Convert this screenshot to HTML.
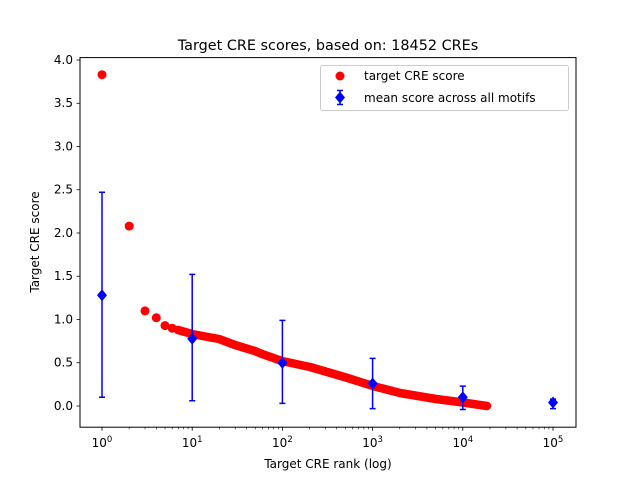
<!DOCTYPE html>
<html><head><style>body{margin:0;background:#fff}svg{display:block;font-family:"DejaVu Sans","Liberation Sans",sans-serif}</style></head>
<body>
<svg width="640" height="480" viewBox="0 0 640 480">
<rect width="640" height="480" fill="#fff"/>
<text x="328" y="50" font-size="14.4" text-anchor="middle">Target CRE scores, based on: 18452 CREs</text>
<polyline points="178,330 192,334 208,337 219,339 235,345 255,351 262,354 282,361 310,367 346,377.5 373,386 400,393 436,399 463,402.5 487,406" fill="none" stroke="#ff0000" stroke-width="8.5" stroke-linecap="round" stroke-linejoin="round"/>
<g fill="#ff0000">
<circle cx="102" cy="74.7" r="4.5"/><circle cx="129.2" cy="226.1" r="4.5"/><circle cx="145" cy="310.9" r="4.5"/><circle cx="156.3" cy="317.8" r="4.5"/><circle cx="165" cy="325.6" r="4.5"/><circle cx="172.2" cy="328.2" r="4.5"/>
</g>
<g stroke="#0000ff" stroke-width="1.5" fill="none">
<path d="M102,397.3V192.3M99,397.3h6M99,192.3h6"/>
<path d="M192.2,400.8V274.4M189.2,400.8h6M189.2,274.4h6"/>
<path d="M282.4,403.4V320.4M279.4,403.4h6M279.4,320.4h6"/>
<path d="M372.6,408.6V358.4M369.6,408.6h6M369.6,358.4h6"/>
<path d="M462.8,409.5V386.1M459.8,409.5h6M459.8,386.1h6"/>
<path d="M553,408.6V399.1M550,408.6h6M550,399.1h6"/>
</g>
<g fill="#0000ff">
<path d="M102,289.3l5,6-5,6-5-6z"/><path d="M192.2,332.7l5,6-5,6-5-6z"/><path d="M282.4,356.9l5,6-5,6-5-6z"/><path d="M372.6,377.5l5,6-5,6-5-6z"/><path d="M462.8,391.3l5,6-5,6-5-6z"/><path d="M553,396.5l5,6-5,6-5-6z"/>
</g>
<rect x="80" y="57.6" width="496" height="369.6" fill="none" stroke="#000" stroke-width="1"/>
<g stroke="#000" stroke-width="0.8">
<path d="M102,427.2v3.5M192.2,427.2v3.5M282.4,427.2v3.5M372.6,427.2v3.5M462.8,427.2v3.5M553,427.2v3.5"/>
<path d="M80,406h-3.5M80,362.75h-3.5M80,319.5h-3.5M80,276.25h-3.5M80,233h-3.5M80,189.75h-3.5M80,146.5h-3.5M80,103.25h-3.5M80,60h-3.5"/>
</g>
<g stroke="#000" stroke-width="0.6" id="minor"></g>
<g font-size="12" text-anchor="end">
<text x="73" y="410">0.0</text><text x="73" y="366.7">0.5</text><text x="73" y="323.5">1.0</text><text x="73" y="280.2">1.5</text><text x="73" y="237">2.0</text><text x="73" y="193.7">2.5</text><text x="73" y="150.5">3.0</text><text x="73" y="107.2">3.5</text><text x="73" y="64">4.0</text>
</g>
<g font-size="12" text-anchor="middle">
<text x="102" y="447">10<tspan dy="-5" font-size="8.5">0</tspan></text>
<text x="192.2" y="447">10<tspan dy="-5" font-size="8.5">1</tspan></text>
<text x="282.4" y="447">10<tspan dy="-5" font-size="8.5">2</tspan></text>
<text x="372.6" y="447">10<tspan dy="-5" font-size="8.5">3</tspan></text>
<text x="462.8" y="447">10<tspan dy="-5" font-size="8.5">4</tspan></text>
<text x="553" y="447">10<tspan dy="-5" font-size="8.5">5</tspan></text>
<text x="328" y="468">Target CRE rank (log)</text>
<text transform="translate(39,242) rotate(-90)">Target CRE score</text>
</g>
<rect x="320.5" y="65.5" width="248" height="45" rx="2" fill="#fff" stroke="#ccc"/>
<circle cx="340" cy="76" r="4.5" fill="#ff0000"/>
<path d="M340,91.5l5,6-5,6-5-6z" fill="#0000ff"/>
<path d="M340,90.5v14M337,90.5h6M337,104.5h6" stroke="#0000ff" stroke-width="1.5"/>
<text x="364" y="80" font-size="12">target CRE score</text>
<text x="364" y="102" font-size="12">mean score across all motifs</text>
</svg>
<script>
var g=document.getElementById('minor'),s='';
for(var d=0;d<5;d++)for(var k=2;k<10;k++){var x=102+90.2*(d+Math.log10(k));s+='M'+x+',427.2v2';}
g.innerHTML='<path d="'+s+'"/>';
</script>
</body></html>
